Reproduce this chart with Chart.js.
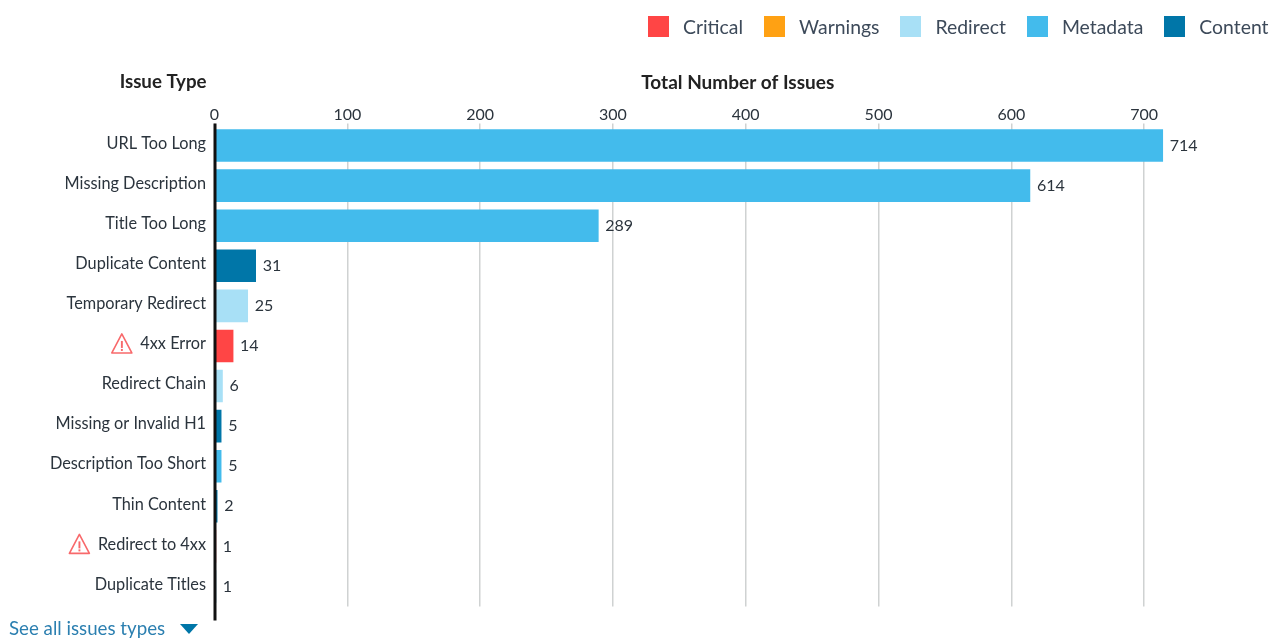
<!DOCTYPE html>
<html>
<head>
<meta charset="utf-8">
<title>Issues</title>
<script src="https://cdn.jsdelivr.net/npm/chart.js@4"></script>
<style>
  html, body { margin: 0; padding: 0; background: #fff; overflow: hidden; }
  body { width: 1276px; height: 639px; position: relative; font-family: Lato, sans-serif; }
  #chart { position: absolute; left: 0; top: 0; }
  #legend { position: absolute; left: 648px; top: 16px; height: 21px; display: flex; color: #3d4a5a; font-size: 19.4px; line-height: 21px; white-space: nowrap; }
  #legend div { display: flex; margin-right: 21px; }
  #legend i { display: block; width: 21px; height: 21px; margin-right: 14px; }
  #more { position: absolute; left: 9px; top: 617px; color: #2b7fb0; font-size: 18.7px; line-height: 22px; }
  #more i { position: absolute; left: 171px; top: 7px; width: 0; height: 0; border-left: 9px solid transparent; border-right: 9px solid transparent; border-top: 10px solid #0076a8; }
</style>
</head>
<body>
<canvas id="chart" width="1276" height="639"></canvas>
<div id="legend"></div>
<div id="more">See all issues types<i></i></div>
<script>
var issueTypes = ["URL Too Long", "Missing Description", "Title Too Long", "Duplicate Content", "Temporary Redirect", "4xx Error", "Redirect Chain", "Missing or Invalid H1", "Description Too Short", "Thin Content", "Redirect to 4xx", "Duplicate Titles"];
var issueCounts = [714, 614, 289, 31, 25, 14, 6, 5, 5, 2, 1, 1];
var issueGroups = ["Metadata", "Metadata", "Metadata", "Content", "Redirect", "Critical", "Redirect", "Content", "Metadata", "Content", "Critical", "Content"];
var groupNames = ["Critical", "Warnings", "Redirect", "Metadata", "Content"];
var groupColors = ["#ff4545", "#ffa113", "#a8e0f6", "#43bbec", "#0076a8"];
var flaggedIssues = ["4xx Error", "Redirect to 4xx"];

var textColor = "#2b343d";

function buildDatasets() {
  return groupNames.map(function(group, g) {
    return {
      label: group,
      backgroundColor: groupColors[g],
      barThickness: 32,
      data: issueCounts.map(function(count, i) {
        return issueGroups[i] === group ? count : null;
      })
    };
  });
}

function drawWarning(ctx, x, y) {
  ctx.save();
  ctx.strokeStyle = "#f8696b";
  ctx.fillStyle = "#f8696b";
  ctx.lineWidth = 1.6;
  ctx.lineJoin = "round";
  ctx.beginPath();
  ctx.moveTo(x + 10.5, y - 10);
  ctx.lineTo(x + 20.5, y + 9);
  ctx.lineTo(x + 0.5, y + 9);
  ctx.closePath();
  ctx.stroke();
  ctx.fillRect(x + 9.6, y - 3, 1.9, 7);
  ctx.fillRect(x + 9.6, y + 5, 1.9, 2);
  ctx.restore();
}

var issuePlugin = {
  id: "issueExtras",
  afterDatasetsDraw: function(chart) {
    var ctx = chart.ctx, xs = chart.scales.x, ys = chart.scales.y;
    var zero = xs.getPixelForValue(0);

    // axis line runs past the plot on both ends
    ctx.save();
    ctx.strokeStyle = "#111";
    ctx.lineWidth = 3;
    ctx.beginPath();
    ctx.moveTo(zero + 0.5, ys.top - 2);
    ctx.lineTo(zero + 0.5, ys.bottom + 14);
    ctx.stroke();

    ctx.font = "16px Lato";
    ctx.fillStyle = textColor;
    ctx.textBaseline = "middle";
    ctx.textAlign = "left";
    issueCounts.forEach(function(count, i) {
      ctx.fillText(count, xs.getPixelForValue(count) + 7, ys.getPixelForValue(i));
    });

    ctx.font = "16.3px Lato";
    issueTypes.forEach(function(name, i) {
      if (flaggedIssues.indexOf(name) < 0) return;
      var w = ctx.measureText(name).width;
      drawWarning(ctx, zero - 8.5 - w - 8 - 21, ys.getPixelForValue(i) - 2);
    });

    ctx.font = "bold 18.7px Lato";
    ctx.fillStyle = "#222";
    ctx.textAlign = "right";
    ctx.fillText("Issue Type", zero - 8, 82);
    ctx.restore();
  }
};

function buildLegend() {
  var box = document.getElementById("legend");
  groupNames.forEach(function(group, g) {
    var item = document.createElement("div");
    var swatch = document.createElement("i");
    swatch.style.background = groupColors[g];
    item.appendChild(swatch);
    item.appendChild(document.createTextNode(group));
    box.appendChild(item);
  });
}

Chart.defaults.font.family = "Lato";
Chart.defaults.font.size = 16;
Chart.defaults.color = textColor;

buildLegend();

new Chart(document.getElementById("chart"), {
  type: "bar",
  data: { labels: issueTypes, datasets: buildDatasets() },
  plugins: [issuePlugin],
  options: {
    indexAxis: "y",
    responsive: false,
    animation: false,
    devicePixelRatio: 1,
    layout: { padding: { top: 71.5, right: 15, bottom: 32.5 } },
    plugins: { legend: { display: false }, tooltip: { enabled: false } },
    scales: {
      x: {
        position: "top",
        stacked: true,
        min: 0,
        max: 788,
        afterBuildTicks: function(scale) {
          scale.ticks = scale.ticks.filter(function(t) { return t.value <= 700; });
        },
        afterFit: function(scale) { scale.height = 54; },
        ticks: { stepSize: 100, maxRotation: 0, padding: -1 },
        grid: { color: "#cfd2d2", lineWidth: 1.5, tickLength: 2 },
        border: { display: false },
        title: {
          display: true,
          text: "Total Number of Issues",
          color: "#222",
          padding: 0,
          font: { size: 19, weight: "bold" }
        }
      },
      y: {
        stacked: true,
        afterFit: function(scale) { scale.width = 214.5; },
        ticks: { padding: 0.5, labelOffset: -2, autoSkip: false, font: { size: 16.3 } },
        grid: { display: false },
        border: { display: false }
      }
    }
  }
});
</script>
</body>
</html>
